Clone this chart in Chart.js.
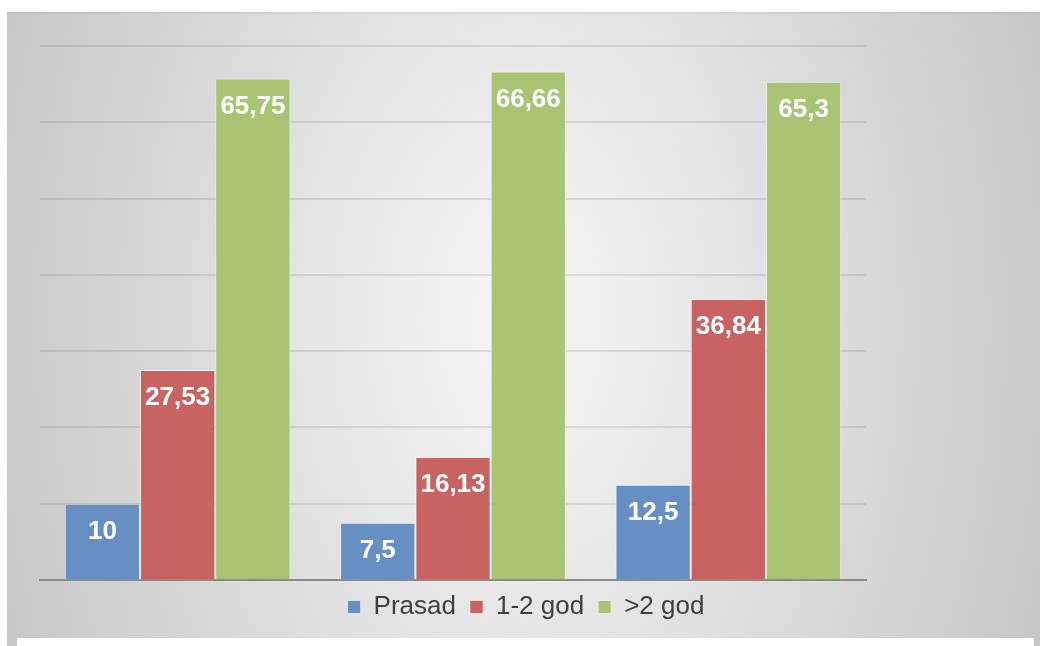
<!DOCTYPE html>
<html>
<head>
<meta charset="utf-8">
<script src="https://cdn.jsdelivr.net/npm/chart.js@4.4.1/dist/chart.umd.min.js"></script>
<style>
    body { margin: 0; background: #ffffff; }
    #wrap { width: 1040px; height: 646px; }
</style>
</head>
<body>
<div id="wrap"><canvas id="BarChart"></canvas></div>
<script>
// no category labels are shown under the groups
const categories = ["", "", ""];
const seriesNames = ["Prasad", "1-2 god", ">2 god"];
const prasad = [10, 7.5, 12.5];
const oneTwoGod = [27.53, 16.13, 36.84];
const moreTwoGod = [65.75, 66.66, 65.3];
const yMax = 70;
const yStep = 10;

const fontFamily = "Arial, 'Liberation Sans', sans-serif";

// gray panel with soft radial shading behind the chart
const backgroundPlugin = {
    id: "panelBackground",
    beforeDraw(chart) {
        const ctx = chart.ctx;
        ctx.save();
        ctx.fillStyle = "#ffffff";
        ctx.fillRect(0, 0, chart.width, chart.height);

        ctx.save();
        ctx.translate(520, 320);
        ctx.scale(1, 1.6);
        const grad = ctx.createRadialGradient(0, 0, 0, 0, 0, 620);
        grad.addColorStop(0, "#f7f7f7");
        grad.addColorStop(1, "#c2c2c2");
        ctx.fillStyle = grad;
        ctx.fillRect(-520, -320, 1100, 600);
        ctx.restore();

        ctx.fillStyle = "#ffffff";
        ctx.fillRect(0, 0, chart.width, 12);
        ctx.fillRect(0, 0, 7, chart.height);

        ctx.strokeStyle = "rgba(0,0,0,0.05)";
        ctx.lineWidth = 2;
        ctx.beginPath();
        ctx.moveTo(7, 13);
        ctx.lineTo(chart.width, 13);
        ctx.stroke();
        ctx.restore();
    },
    afterDraw(chart) {
        const ctx = chart.ctx;
        ctx.save();
        ctx.fillStyle = "#ffffff";
        ctx.fillRect(17, 638, 1017, 8);
        ctx.restore();
    }
};

// white values inside the top of each bar
const valueLabels = {
    id: "valueLabels",
    afterDatasetsDraw(chart) {
        const ctx = chart.ctx;
        ctx.save();
        ctx.font = "bold 26px " + fontFamily;
        ctx.fillStyle = "#ffffff";
        ctx.textAlign = "center";
        ctx.textBaseline = "middle";
        chart.data.datasets.forEach((ds, i) => {
            const meta = chart.getDatasetMeta(i);
            meta.data.forEach((bar, j) => {
                const txt = String(ds.data[j]).replace(".", ",");
                ctx.fillText(txt, bar.x, bar.y + 28);
            });
        });
        ctx.restore();
    }
};

const ctx = document.getElementById("BarChart").getContext("2d");

new Chart(ctx, {
    type: "bar",
    data: {
        labels: categories,
        datasets: [
            {
                label: seriesNames[0],
                data: prasad,
                backgroundColor: "#6690c4",
                borderColor: "rgba(255,255,255,0.55)",
                borderWidth: 1
            },
            {
                label: seriesNames[1],
                data: oneTwoGod,
                backgroundColor: "#c96361",
                borderColor: "rgba(255,255,255,0.55)",
                borderWidth: 1
            },
            {
                label: seriesNames[2],
                data: moreTwoGod,
                backgroundColor: "#a9c574",
                borderColor: "rgba(255,255,255,0.55)",
                borderWidth: 1
            }
        ]
    },
    options: {
        responsive: true,
        maintainAspectRatio: false,
        animation: false,
        categoryPercentage: 0.82,
        barPercentage: 1,
        layout: {
            padding: { left: 12, right: 0, top: 46, bottom: 16 }
        },
        plugins: {
            tooltip: { enabled: false },
            legend: {
                position: "bottom",
                labels: {
                    boxWidth: 13,
                    boxHeight: 13,
                    padding: 14,
                    color: "#404040",
                    font: { family: fontFamily, size: 26 }
                }
            }
        },
        scales: {
            x: {
                grid: { display: false },
                ticks: { display: false },
                border: { display: true, color: "#8a8a8a", width: 2 },
                afterFit: (scale) => { scale.height = 0; }
            },
            y: {
                min: 0,
                max: yMax,
                ticks: { display: false, stepSize: yStep },
                grid: { color: "rgba(0,0,0,0.09)", lineWidth: 2, drawTicks: false },
                border: { display: false },
                afterFit: (scale) => { scale.width = 28; }
            },
            spacer: {
                type: "linear",
                position: "right",
                ticks: { display: false },
                grid: { display: false },
                border: { display: false },
                afterFit: (scale) => { scale.width = 174; }
            }
        }
    },
    plugins: [backgroundPlugin, valueLabels]
});
</script>
</body>
</html>
